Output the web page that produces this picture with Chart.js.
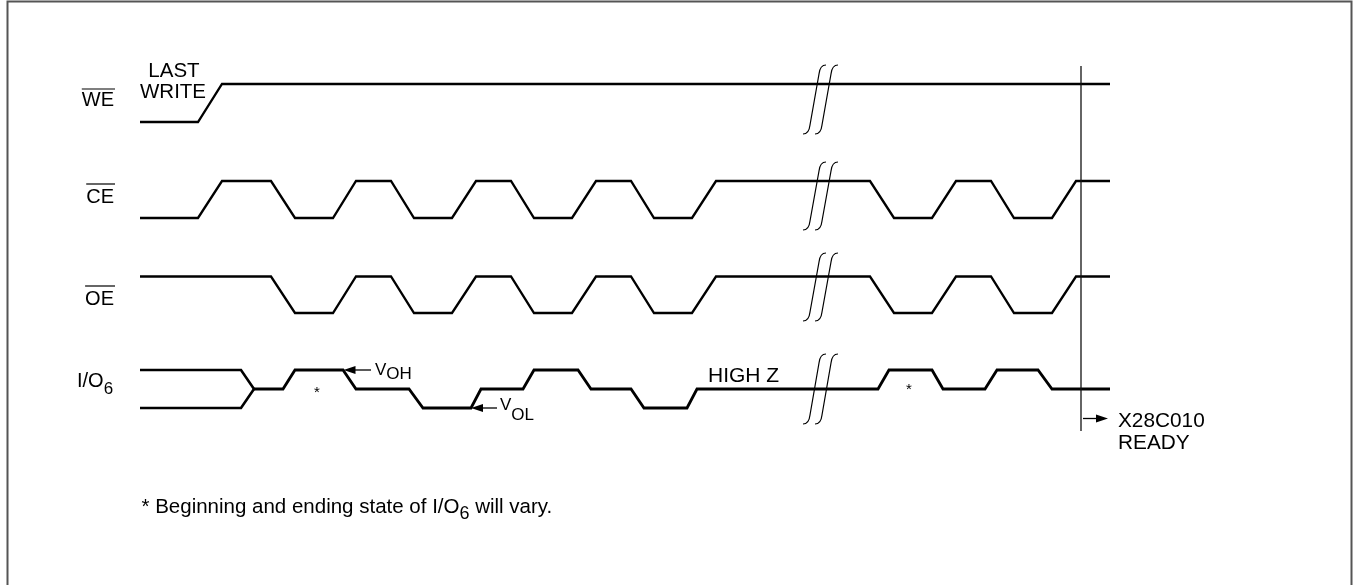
<!DOCTYPE html>
<html>
<head>
<meta charset="utf-8">
<script src="https://cdn.jsdelivr.net/npm/chart.js@4"></script>
<style>
  html, body { margin: 0; padding: 0; background: #fff; }
  #wrap { width: 1354px; height: 585px; position: relative; }
</style>
</head>
<body>
<div id="wrap"><canvas id="chart"></canvas></div>
<script>
// time points (x) and levels (y), in plot units
let weX = [140, 198, 222, 1110];
let weY = [122, 122, 84, 84];

let clkX = [140, 198, 222, 271, 295, 333, 356, 391, 414, 452, 476, 511, 534, 572, 596, 631, 654, 692, 716, 870, 894, 932, 956, 991, 1014, 1052, 1076, 1110];
let ceY = [218, 218, 181, 181, 218, 218, 181, 181, 218, 218, 181, 181, 218, 218, 181, 181, 218, 218, 181, 181, 218, 218, 181, 181, 218, 218, 181, 181];
let oeY = [276.5, 276.5, 276.5, 276.5, 313, 313, 276.5, 276.5, 313, 313, 276.5, 276.5, 313, 313, 276.5, 276.5, 313, 313, 276.5, 276.5, 313, 313, 276.5, 276.5, 313, 313, 276.5, 276.5];

let ioUpX = [140, 241, 254];
let ioUpY = [370, 370, 389];
let ioLoX = [140, 241, 254];
let ioLoY = [408, 408, 389];
let ioX = [254, 283, 295, 343, 356, 409, 423, 471, 481, 523, 534, 578, 591, 631, 644, 687, 697, 878, 889, 932, 943, 985, 997, 1038, 1052, 1110];
let ioY = [389, 389, 370, 370, 389, 389, 408, 408, 389, 389, 370, 370, 389, 389, 408, 408, 389, 389, 370, 370, 389, 389, 370, 370, 389, 389];

let breakRows = [[65, 134], [162, 230], [253, 321], [354, 424]];
let breakX = [803, 815];
let readyX = 1081;

function pts(xs, ys) {
    return xs.map((x, i) => ({ x: x, y: ys[i] }));
}

function wave(xs, ys, w) {
    return {
        data: pts(xs, ys),
        showLine: true,
        borderColor: '#000',
        borderWidth: w,
        pointRadius: 0,
        tension: 0,
        borderJoinStyle: 'miter',
        borderCapStyle: 'butt'
    };
}

const FONT = '"Liberation Sans", Arial, sans-serif';

const drawExtras = {
    id: 'extras',
    afterDraw(chart) {
        const ctx = chart.ctx;
        const sx = chart.scales.x, sy = chart.scales.y;
        const X = v => sx.getPixelForValue(v);
        const Y = v => sy.getPixelForValue(v);

        ctx.save();

        // frame
        ctx.strokeStyle = '#555';
        ctx.lineWidth = 2;
        ctx.beginPath();
        ctx.moveTo(X(7.5), Y(590));
        ctx.lineTo(X(7.5), Y(1.5));
        ctx.lineTo(X(1351.5), Y(1.5));
        ctx.lineTo(X(1351.5), Y(590));
        ctx.stroke();

        // break marks
        ctx.strokeStyle = '#000';
        ctx.lineWidth = 1.2;
        breakRows.forEach(r => {
            breakX.forEach(bx => {
                let yb = r[1], yt = r[0], tx = bx + 23;
                ctx.beginPath();
                ctx.moveTo(X(bx), Y(yb));
                ctx.quadraticCurveTo(X(bx + 6), Y(yb), X(bx + 7), Y(yb - 9));
                ctx.lineTo(X(tx - 7), Y(yt + 9));
                ctx.quadraticCurveTo(X(tx - 6), Y(yt), X(tx), Y(yt));
                ctx.stroke();
            });
        });

        // ready marker line
        ctx.lineWidth = 1.3;
        ctx.strokeStyle = '#111';
        ctx.beginPath();
        ctx.moveTo(X(readyX), Y(66));
        ctx.lineTo(X(readyX), Y(431));
        ctx.stroke();

        function arrow(x1, x2, y) {
            // tip at x2
            let dir = x2 > x1 ? 1 : -1;
            ctx.strokeStyle = '#000';
            ctx.lineWidth = 1.3;
            ctx.beginPath();
            ctx.moveTo(X(x1), Y(y));
            ctx.lineTo(X(x2 - dir * 8), Y(y));
            ctx.stroke();
            ctx.fillStyle = '#000';
            ctx.beginPath();
            ctx.moveTo(X(x2), Y(y));
            ctx.lineTo(X(x2 - dir * 12), Y(y - 4));
            ctx.lineTo(X(x2 - dir * 12), Y(y + 4));
            ctx.closePath();
            ctx.fill();
        }
        arrow(371, 343.5, 370);
        arrow(497, 471, 408);
        arrow(1083, 1108, 418.5);

        ctx.fillStyle = '#000';
        ctx.textBaseline = 'alphabetic';
        function text(s, x, y, size, align) {
            ctx.font = size + 'px ' + FONT;
            ctx.textAlign = align || 'left';
            ctx.fillText(s, X(x), Y(y));
            return ctx.measureText(s).width;
        }
        function overText(s, xr, y, oy) {
            let w = text(s, xr, y, 20, 'right');
            ctx.lineWidth = 1.2;
            ctx.beginPath();
            ctx.moveTo(X(xr) - w, Y(oy));
            ctx.lineTo(X(xr) + 1, Y(oy));
            ctx.stroke();
        }
        overText('WE', 114, 106, 89);
        overText('CE', 114, 203, 184);
        overText('OE', 114, 305, 286);

        text('LAST', 174, 77, 20.5, 'center');
        text('WRITE', 173, 98, 20.5, 'center');

        let w = text('I/O', 77, 387, 20);
        text('6', 77 + w, 394, 17);

        w = text('V', 375, 375, 17);
        text('OH', 375 + w, 379, 17);
        w = text('V', 500, 409.5, 17);
        text('OL', 500 + w, 420, 17);

        text('HIGH Z', 708, 382, 21);
        text('*', 317, 397, 15, 'center');
        text('*', 909, 394, 15, 'center');

        text('X28C010', 1118, 427, 20.8);
        text('READY', 1118, 449, 20.8);

        let fx = 141.5;
        fx += text('* Beginning and ending state of I/O', fx, 513, 20.5);
        fx += text('6', fx, 519, 18);
        text(' will vary.', fx, 513, 20.5);

        ctx.restore();
    }
};

const ctx = document.getElementById('chart').getContext('2d');

new Chart(ctx, {
    type: 'scatter',
    data: {
        datasets: [
            wave(weX, weY, 2.3),
            wave(clkX, ceY, 2.3),
            wave(clkX, oeY, 2.3),
            wave(ioUpX, ioUpY, 2.6),
            wave(ioLoX, ioLoY, 2.6),
            wave(ioX, ioY, 2.8)
        ]
    },
    options: {
        responsive: true,
        maintainAspectRatio: false,
        animation: false,
        layout: { padding: 0 },
        plugins: {
            legend: { display: false },
            tooltip: { enabled: false }
        },
        scales: {
            x: { type: 'linear', min: 0, max: 1354, display: false },
            y: { type: 'linear', min: 0, max: 585, reverse: true, display: false }
        }
    },
    plugins: [drawExtras]
});
</script>
</body>
</html>
